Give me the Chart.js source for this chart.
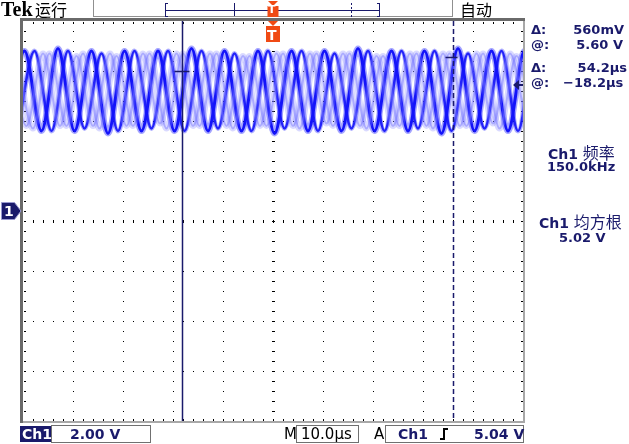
<!DOCTYPE html>
<html>
<head>
<meta charset="utf-8">
<script src="https://cdn.jsdelivr.net/npm/chart.js@4.4.0/dist/chart.umd.min.js"></script>
<style>
  body { margin: 0; background: #fff; }
  #scope { position: relative; width: 629px; height: 444px; overflow: hidden; background: #fff; }
  #scope canvas { position: absolute; left: 0; top: 0; }
  .lbl { position: absolute; white-space: pre; line-height: 16px; font-family: 'DejaVu Sans', sans-serif; font-weight: bold; font-size: 13px; color: #1a1a6b; }
  .blk { color: #000; font-weight: normal; }
  .cjk { font-family: 'Noto Sans CJK SC', sans-serif; font-weight: normal; }
  .wht { color: #fff; font-weight: bold; }
</style>
</head>
<body>
<div id="scope">
  <canvas id="chartCanvas" width="629" height="444"></canvas>

  <div class="lbl blk" style="left:1px;top:0px;font:bold 20px 'Liberation Serif',serif;line-height:18px">Tek</div>
  <div class="lbl blk cjk" style="left:35px;top:0px;font-size:16px;line-height:18px">运行</div>
  <div class="lbl blk cjk" style="left:460px;top:0px;font-size:16px;line-height:18px">自动</div>

  <div class="lbl" style="left:531px;top:22px">Δ:</div>
  <div class="lbl" style="right:5px;top:22px">560mV</div>
  <div class="lbl" style="left:531px;top:37px">@:</div>
  <div class="lbl" style="right:6px;top:37px">5.60 V</div>
  <div class="lbl" style="left:531px;top:60px">Δ:</div>
  <div class="lbl" style="right:2px;top:60px">54.2µs</div>
  <div class="lbl" style="left:531px;top:75px">@:</div>
  <div class="lbl" style="left:563px;top:75px">−18.2µs</div>
  <div class="lbl" style="left:548px;top:143px;font-size:14px;line-height:18px">Ch1 <span class="cjk" style="font-size:16px">频率</span></div>
  <div class="lbl" style="left:547px;top:159px">150.0kHz</div>
  <div class="lbl" style="left:539px;top:212px;font-size:14px;line-height:18px">Ch1 <span class="cjk" style="font-size:16px">均方根</span></div>
  <div class="lbl" style="left:559px;top:230px">5.02 V</div>

  <div class="lbl wht" style="left:22px;top:426px;font-size:14px">Ch1</div>
  <div class="lbl" style="left:70px;top:426px;font-size:14px">2.00 V</div>
  <div class="lbl blk" style="left:284px;top:426px;font-size:15px">M</div>
  <div class="lbl blk" style="left:301px;top:426px;font-size:15px">10.0µs</div>
  <div class="lbl blk" style="left:374px;top:426px;font-size:15px">A</div>
  <div class="lbl" style="left:398px;top:426px;font-size:14px">Ch1</div>
  <div class="lbl" style="left:474px;top:426px;font-size:14px">5.04 V</div>

  <div class="lbl wht" style="left:4px;top:203px;font-size:14px">1</div>
  <div class="lbl wht" style="left:268px;top:4px;font-size:11px;line-height:12px">T</div>
  <div class="lbl wht" style="left:267px;top:28px;font-size:14px;line-height:15px">T</div>
</div>
<script>
    // Réglages de l'oscillo (µs et V)
    const timeRange = [-50, 50];
    const voltRange = [-8.4, 7.6];
    const cursorTimes = [-18.2, 36.0];
    const cursorVolts = [5.60, 6.16];
    const triggerLevel = 5.04;

    // Extrema des traces (temps en µs, tension en V)
    const tA = [-53.0,-49.7,-46.3,-43.0,-39.7,-36.3,-33.0,-29.7,-26.3,-23.0,-19.7,-16.3,-13.0,-9.7,-6.3,-3.0,0.3,3.7,7.0,10.3,13.7,17.0,20.3,23.7,27.0,30.3,33.7,37.0,40.3,43.7,47.0,50.3,53.7];
    const vA = [3.2,6.4,3.2,6.5,3.2,6.4,3.1,6.4,3.2,6.4,3.2,6.5,3.2,6.4,3.2,6.4,3.1,6.4,3.2,6.4,3.2,6.5,3.2,6.4,3.2,6.4,3.1,6.5,3.2,6.4,3.2,6.4,3.2];
    const tB = [-51.0,-47.7,-44.3,-41.0,-37.7,-34.3,-31.0,-27.7,-24.3,-21.0,-17.7,-14.3,-11.0,-7.7,-4.3,-1.0,2.3,5.7,9.0,12.3,15.7,19.0,22.3,25.7,29.0,32.3,35.7,39.0,42.3,45.7,49.0,52.3,55.7];
    const vB = [3.3,6.4,3.2,6.4,3.3,6.3,3.2,6.4,3.3,6.4,3.2,6.4,3.3,6.3,3.2,6.4,3.3,6.4,3.2,6.3,3.3,6.4,3.2,6.4,3.3,6.4,3.2,6.3,3.3,6.4,3.2,6.4,3.3];
    const tC = [-52.6,-49.3,-46.0,-42.6,-39.3,-36.0,-32.6,-29.3,-26.0,-22.6,-19.3,-16.0,-12.6,-9.3,-6.0,-2.6,0.7,4.0,7.4,10.7,14.0,17.4,20.7,24.0,27.4,30.7,34.0,37.4,40.7,44.0,47.4,50.7];
    const vC = [6.3,3.4,6.3,3.4,6.2,3.4,6.3,3.4,6.3,3.5,6.3,3.4,6.3,3.4,6.2,3.4,6.3,3.4,6.3,3.5,6.3,3.4,6.2,3.4,6.3,3.4,6.3,3.4,6.3,3.5,6.3,3.4];
    const tD = [-51.3,-48.0,-44.7,-41.3,-38.0,-34.7,-31.3,-28.0,-24.7,-21.3,-18.0,-14.7,-11.3,-8.0,-4.7,-1.3,2.0,5.3,8.7,12.0,15.3,18.7,22.0,25.3,28.7,32.0,35.3,38.7,42.0,45.3,48.7,52.0];
    const vD = [6.3,3.3,6.3,3.4,6.3,3.3,6.2,3.4,6.3,3.3,6.3,3.4,6.3,3.3,6.2,3.4,6.3,3.3,6.3,3.4,6.3,3.3,6.2,3.4,6.3,3.3,6.3,3.4,6.3,3.3,6.2,3.4];

    const NAVY = '#1a1a6b';
    const ORANGE = '#f04a14';

    function toPoints(t, v) {
        return t.map((x, i) => ({ x: x, y: v[i] }));
    }

    // Une trace = un halo large + un coeur fin (effet persistance)
    function trace(t, v, halo, haloWidth, core, coreWidth) {
        const base = { showLine: true, pointRadius: 0, cubicInterpolationMode: 'monotone', clip: 0 };
        return [
            Object.assign({ data: toPoints(t, v), borderColor: halo, borderWidth: haloWidth }, base),
            Object.assign({ data: toPoints(t, v), borderColor: core, borderWidth: coreWidth }, base)
        ];
    }

    const datasets = [
        ...trace(tC, vC, 'rgba(130,130,255,0.30)', 6, 'rgba(110,110,255,0.45)', 2),
        ...trace(tD, vD, 'rgba(130,130,255,0.30)', 6, 'rgba(110,110,255,0.45)', 2),
        ...trace(tB, vB, 'rgba(30,30,255,0.35)', 5, 'rgba(15,15,245,0.9)', 2.5),
        ...trace(tA, vA, 'rgba(30,30,255,0.40)', 6, '#0c0cf5', 3)
    ];

    function tMarker(ctx, cx, top, w, h) {
        ctx.fillStyle = ORANGE;
        ctx.beginPath();
        ctx.moveTo(cx - 5, top);
        ctx.lineTo(cx + 5, top);
        ctx.lineTo(cx, top + 5);
        ctx.closePath();
        ctx.fill();
        ctx.fillRect(cx - w / 2, top + 5, w, h);
    }

    const scopePlugin = {
        id: 'scope',
        beforeDatasetsDraw(chart) {
            const { ctx, chartArea: a, scales: { x, y } } = chart;
            ctx.save();
            ctx.fillStyle = '#000';
            // graticule en pointillés
            for (let i = 1; i < 10; i++) {
                const px = Math.round(x.getPixelForValue(-50 + i * 10));
                for (let j = 1; j < 40; j++) {
                    const py = Math.round(y.getPixelForValue(-8.4 + j * 0.4));
                    if (i === 5) ctx.fillRect(px - 1, py, 3, 1);
                    else ctx.fillRect(px, py, 1, 1);
                }
            }
            for (let j = 1; j < 8; j++) {
                const py = Math.round(y.getPixelForValue(-8.4 + j * 2));
                for (let i = 1; i < 50; i++) {
                    const px = Math.round(x.getPixelForValue(-50 + i * 2));
                    if (j === 4) ctx.fillRect(px, py - 1, 1, 3);
                    else ctx.fillRect(px, py, 1, 1);
                }
            }
            // graduations sur les bords
            for (let i = 1; i < 50; i++) {
                const px = Math.round(x.getPixelForValue(-50 + i * 2));
                ctx.fillRect(px, a.top + 1, 1, 2);
                ctx.fillRect(px, a.bottom - 2, 1, 2);
            }
            for (let j = 1; j < 40; j++) {
                const py = Math.round(y.getPixelForValue(-8.4 + j * 0.4));
                ctx.fillRect(a.left + 1, py, 2, 1);
                ctx.fillRect(a.right - 2, py, 2, 1);
            }
            ctx.restore();
        },
        afterDatasetsDraw(chart) {
            const { ctx, chartArea: a, scales: { x, y } } = chart;
            ctx.save();

            // curseurs
            const c1 = Math.round(x.getPixelForValue(cursorTimes[0])) + 0.5;
            const c2 = Math.round(x.getPixelForValue(cursorTimes[1])) + 0.5;
            ctx.strokeStyle = NAVY;
            ctx.lineWidth = 1.5;
            ctx.beginPath();
            ctx.moveTo(c1, a.top); ctx.lineTo(c1, a.bottom);
            ctx.stroke();
            ctx.setLineDash([5, 3]);
            ctx.beginPath();
            ctx.moveTo(c2, a.top); ctx.lineTo(c2, a.bottom);
            ctx.stroke();
            ctx.setLineDash([]);
            const h1 = Math.round(y.getPixelForValue(cursorVolts[0])) + 0.5;
            const h2 = Math.round(y.getPixelForValue(cursorVolts[1])) + 0.5;
            ctx.beginPath();
            ctx.moveTo(c1 - 8, h1); ctx.lineTo(c1 + 7, h1);
            ctx.moveTo(c2 - 8, h2); ctx.lineTo(c2 + 4, h2);
            ctx.stroke();

            // niveau de déclenchement
            const tl = y.getPixelForValue(triggerLevel);
            ctx.fillStyle = NAVY;
            ctx.beginPath();
            ctx.moveTo(a.right - 10, tl);
            ctx.lineTo(a.right - 4, tl - 5);
            ctx.lineTo(a.right - 4, tl + 5);
            ctx.closePath();
            ctx.fill();
            ctx.fillRect(a.right - 5, tl - 1, 6, 2);

            // cadre
            ctx.fillStyle = '#a8a8a8';
            ctx.fillRect(a.right, a.top - 2, 2, a.bottom - a.top + 4);
            ctx.fillRect(a.left - 3, a.bottom, a.right - a.left + 5, 2);
            ctx.fillStyle = '#6a6a6a';
            ctx.fillRect(a.left - 3, a.top - 3, 3, a.bottom - a.top + 5);
            ctx.fillRect(a.left - 3, a.top - 3, a.right - a.left + 5, 3);

            // marqueur masse Ch1
            const g = Math.round(y.getPixelForValue(0));
            ctx.fillStyle = NAVY;
            ctx.beginPath();
            ctx.moveTo(1.5, g - 8.5);
            ctx.lineTo(14.5, g - 8.5);
            ctx.lineTo(a.left - 2, g);
            ctx.lineTo(14.5, g + 8.5);
            ctx.lineTo(1.5, g + 8.5);
            ctx.closePath();
            ctx.fill();
            ctx.strokeStyle = '#9a9ad0';
            ctx.lineWidth = 1;
            ctx.stroke();

            // marqueurs T
            const tx = Math.round(x.getPixelForValue(0));
            tMarker(ctx, tx, a.top, 14, 16);

            // barre du haut
            ctx.fillStyle = '#909090';
            ctx.fillRect(93, 0, 1, 17);
            ctx.fillRect(93, 16, 360, 1);
            ctx.fillRect(452, 0, 1, 17);
            ctx.fillStyle = NAVY;
            ctx.fillRect(165, 3, 1, 14);
            ctx.fillRect(165, 3, 3, 1);
            ctx.fillRect(165, 16, 3, 1);
            ctx.fillRect(165, 10, 215, 1);
            ctx.fillRect(379, 3, 1, 14);
            ctx.fillRect(377, 3, 3, 1);
            ctx.fillRect(377, 16, 3, 1);
            ctx.fillRect(234, 3, 1, 13);
            for (let yy = 3; yy < 16; yy += 4) ctx.fillRect(351, yy, 1, 2);
            tMarker(ctx, tx, 1, 11, 11);

            // barre du bas
            ctx.fillStyle = NAVY;
            ctx.fillRect(20, 426, 31, 16);
            ctx.strokeStyle = '#707070';
            ctx.lineWidth = 1;
            ctx.strokeRect(51.5, 425.5, 99, 17);
            ctx.strokeRect(296.5, 425.5, 62, 17);
            ctx.strokeRect(385.5, 425.5, 138, 17);
            ctx.strokeStyle = '#000';
            ctx.lineWidth = 2;
            ctx.beginPath();
            ctx.moveTo(440, 439); ctx.lineTo(444, 439); ctx.lineTo(444, 429); ctx.lineTo(448, 429);
            ctx.stroke();
            ctx.restore();
        }
    };

    const chartCanvas = document.getElementById('chartCanvas');
    const myChart = new Chart(chartCanvas, {
        type: 'scatter',
        data: { datasets: datasets },
        options: {
            responsive: false,
            animation: false,
            layout: { padding: { left: 23, right: 106, top: 21, bottom: 23 } },
            plugins: { legend: { display: false }, tooltip: { enabled: false } },
            scales: {
                x: { type: 'linear', display: false, min: timeRange[0], max: timeRange[1] },
                y: { type: 'linear', display: false, min: voltRange[0], max: voltRange[1] }
            }
        },
        plugins: [scopePlugin]
    });
</script>
</body>
</html>
